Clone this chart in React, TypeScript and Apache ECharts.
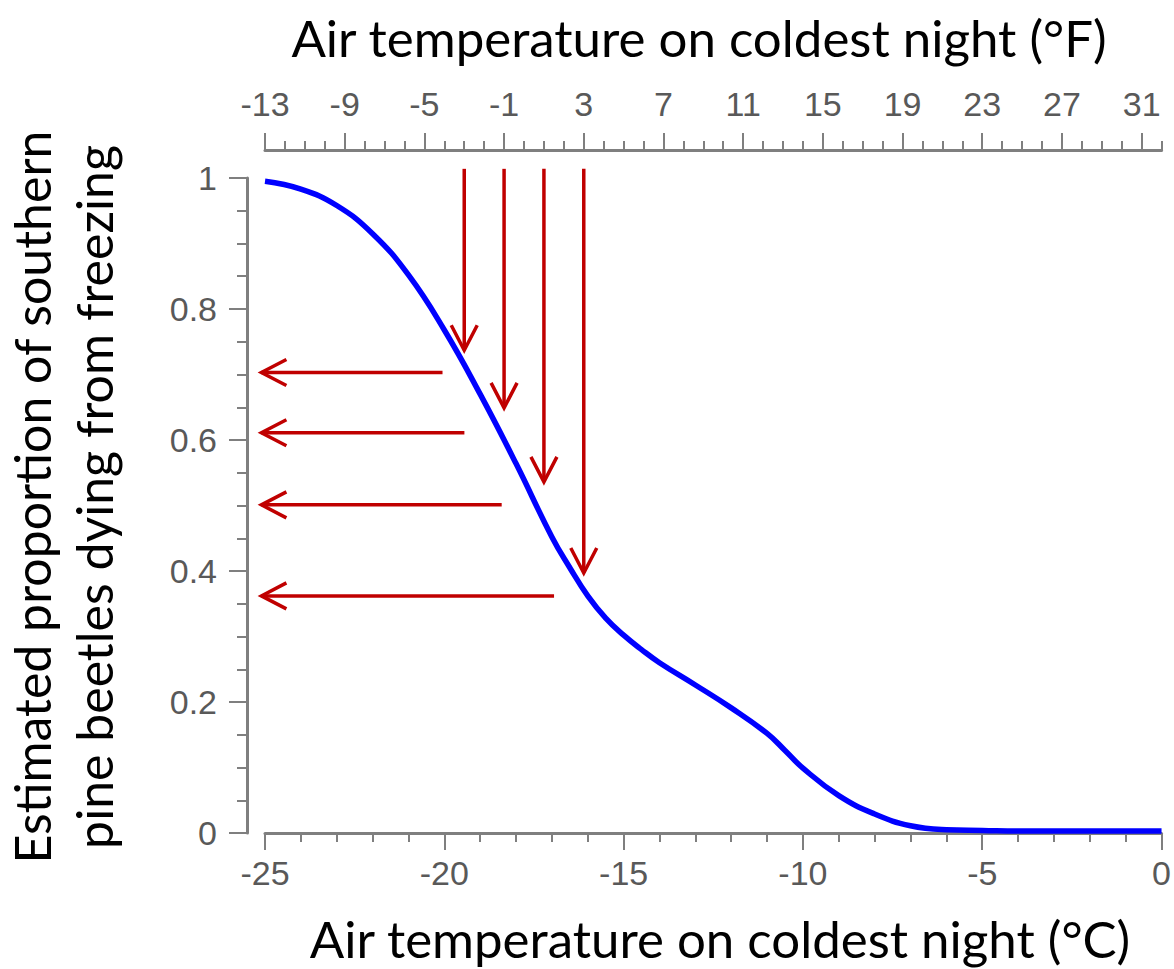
import React, { useEffect, useRef } from "react";
import * as echarts from "echarts";

// Estimated freezing mortality curve (x: °C on the coldest night, y: proportion dying)
const tempC = [-25, -24, -23, -22, -21, -20, -19, -18, -17, -16.5, -16, -15.5, -15, -14.5, -14, -13, -12, -11, -10.5, -10, -9, -8, -7, -6, -5, -4, -3, -2, -1, 0];
const mortality = [0.995, 0.983, 0.958, 0.915, 0.852, 0.768, 0.67, 0.564, 0.452, 0.405, 0.362, 0.328, 0.302, 0.28, 0.26, 0.226, 0.191, 0.152, 0.126, 0.099, 0.057, 0.029, 0.011, 0.005, 0.004, 0.003, 0.003, 0.003, 0.003, 0.003];

// Fahrenheit scale shown along the top
const fahrenheitMin = -13;
const fahrenheitMax = 32;
const fahrenheitMajor = [-13, -9, -5, -1, 3, 7, 11, 15, 19, 23, 27, 31];

// Vertical arrows dropping from given °F temperatures towards the curve
const dropArrowF = [-3, -1, 1, 3];
const dropArrowTop = 1.014;
const dropArrowTip = [0.737, 0.649, 0.536, 0.397];

// Horizontal arrows reading the proportion off to the y axis
const readArrowY = [0.703, 0.611, 0.501, 0.362];
const readArrowStartC = [-20.05, -19.44, -18.4, -16.94];
const readArrowEndC = -25.1;

const fToC = (f: number) => ((f - 32) * 5) / 9;

const AXIS_COLOR = "#7f7f7f";
const LABEL_COLOR = "#595959";
const ARROW_COLOR = "#c00000";
const TICK_FONT = "Liberation Sans";
const TITLE_FONT = "Lato";

export default function App() {
  const ref = useRef<HTMLDivElement>(null);

  useEffect(() => {
    if (!ref.current) return;
    const chart = echarts.init(ref.current, undefined, { renderer: "svg" });

    const curve = tempC.map((t, i) => [t, mortality[i]]);
    const arrows: number[][] = [];
    dropArrowF.forEach((f, i) => arrows.push([fToC(f), dropArrowTop, fToC(f), dropArrowTip[i]]));
    readArrowY.forEach((y, i) => arrows.push([readArrowStartC[i], y, readArrowEndC, y]));

    const tickLabel = { color: LABEL_COLOR, fontFamily: TICK_FONT, fontSize: 34 };

    chart.setOption({
      animation: false,
      backgroundColor: "#ffffff",
      grid: { left: 265, right: 9, top: 178, bottom: 136, containLabel: false },
      xAxis: [
        {
          type: "value",
          position: "bottom",
          min: -25,
          max: 0,
          interval: 5,
          axisLine: { onZero: false, lineStyle: { color: AXIS_COLOR, width: 3 } },
          axisTick: { length: 17, lineStyle: { color: AXIS_COLOR, width: 2 } },
          minorTick: { show: true, splitNumber: 5, length: 9, lineStyle: { color: AXIS_COLOR, width: 2 } },
          axisLabel: { ...tickLabel, margin: 23 },
          splitLine: { show: false },
          minorSplitLine: { show: false },
        },
        {
          type: "value",
          position: "top",
          offset: 28,
          min: fahrenheitMin,
          max: fahrenheitMax,
          interval: 4,
          axisLine: { onZero: false, lineStyle: { color: AXIS_COLOR, width: 3 } },
          axisTick: { customValues: fahrenheitMajor, length: 17, lineStyle: { color: AXIS_COLOR, width: 2 } },
          axisLabel: { ...tickLabel, customValues: fahrenheitMajor, margin: 29 },
          splitLine: { show: false },
        },
        {
          type: "value",
          position: "top",
          offset: 28,
          min: fahrenheitMin,
          max: fahrenheitMax,
          interval: 1,
          axisLine: { show: false, onZero: false },
          axisTick: { length: 9, lineStyle: { color: AXIS_COLOR, width: 2 } },
          axisLabel: { show: false },
          splitLine: { show: false },
        },
      ],
      yAxis: {
        type: "value",
        min: 0,
        max: 1,
        interval: 0.2,
        offset: 18,
        axisLine: { show: true, onZero: false, lineStyle: { color: AXIS_COLOR, width: 3 } },
        axisTick: { show: true, length: 18, lineStyle: { color: AXIS_COLOR, width: 2 } },
        minorTick: { show: true, splitNumber: 4, length: 10, lineStyle: { color: AXIS_COLOR, width: 2 } },
        axisLabel: { ...tickLabel, margin: 30 },
        splitLine: { show: false },
        minorSplitLine: { show: false },
      },
      series: [
        {
          type: "line",
          data: curve,
          xAxisIndex: 0,
          smooth: 0.45,
          showSymbol: false,
          symbol: "none",
          lineStyle: { color: "#0000ff", width: 5.5 },
          z: 3,
        },
        {
          type: "custom",
          xAxisIndex: 0,
          data: arrows,
          encode: { x: [0, 2], y: [1, 3] },
          clip: false,
          z: 4,
          renderItem: (_params: any, api: any) => {
            const s = api.coord([api.value(0), api.value(1)]);
            const e = api.coord([api.value(2), api.value(3)]);
            const dx = e[0] - s[0];
            const dy = e[1] - s[1];
            const len = Math.sqrt(dx * dx + dy * dy) || 1;
            const ux = dx / len;
            const uy = dy / len;
            const headLen = 25;
            const headHalf = 13;
            const bx = e[0] - ux * headLen;
            const by = e[1] - uy * headLen;
            const style = { stroke: ARROW_COLOR, lineWidth: 3.5, fill: "none", lineJoin: "miter" };
            return {
              type: "group",
              children: [
                { type: "line", shape: { x1: s[0], y1: s[1], x2: e[0], y2: e[1] }, style },
                {
                  type: "polyline",
                  shape: {
                    points: [
                      [bx - uy * headHalf, by + ux * headHalf],
                      [e[0], e[1]],
                      [bx + uy * headHalf, by - ux * headHalf],
                    ],
                  },
                  style,
                },
              ],
            };
          },
        },
      ],
      graphic: [
        {
          type: "text",
          x: 699,
          y: 37,
          style: {
            text: "Air temperature on coldest night (°F)",
            fontFamily: TITLE_FONT,
            fontSize: 51,
            fill: "#000000",
            align: "center",
            verticalAlign: "middle",
          },
        },
        {
          type: "text",
          x: 720,
          y: 938,
          style: {
            text: "Air temperature on coldest night (°C)",
            fontFamily: TITLE_FONT,
            fontSize: 51,
            fill: "#000000",
            align: "center",
            verticalAlign: "middle",
          },
        },
        {
          type: "text",
          x: 63,
          y: 497,
          rotation: Math.PI / 2,
          style: {
            text: "Estimated proportion of southern\npine beetles dying from freezing",
            fontFamily: TITLE_FONT,
            fontSize: 50,
            lineHeight: 62,
            fill: "#000000",
            align: "center",
            verticalAlign: "middle",
          },
        },
      ],
    });

    return () => chart.dispose();
  }, []);

  return (
    <div
      ref={ref}
      style={{ position: "fixed", left: 0, top: 0, width: 1174, height: 969, background: "#ffffff" }}
    />
  );
}
